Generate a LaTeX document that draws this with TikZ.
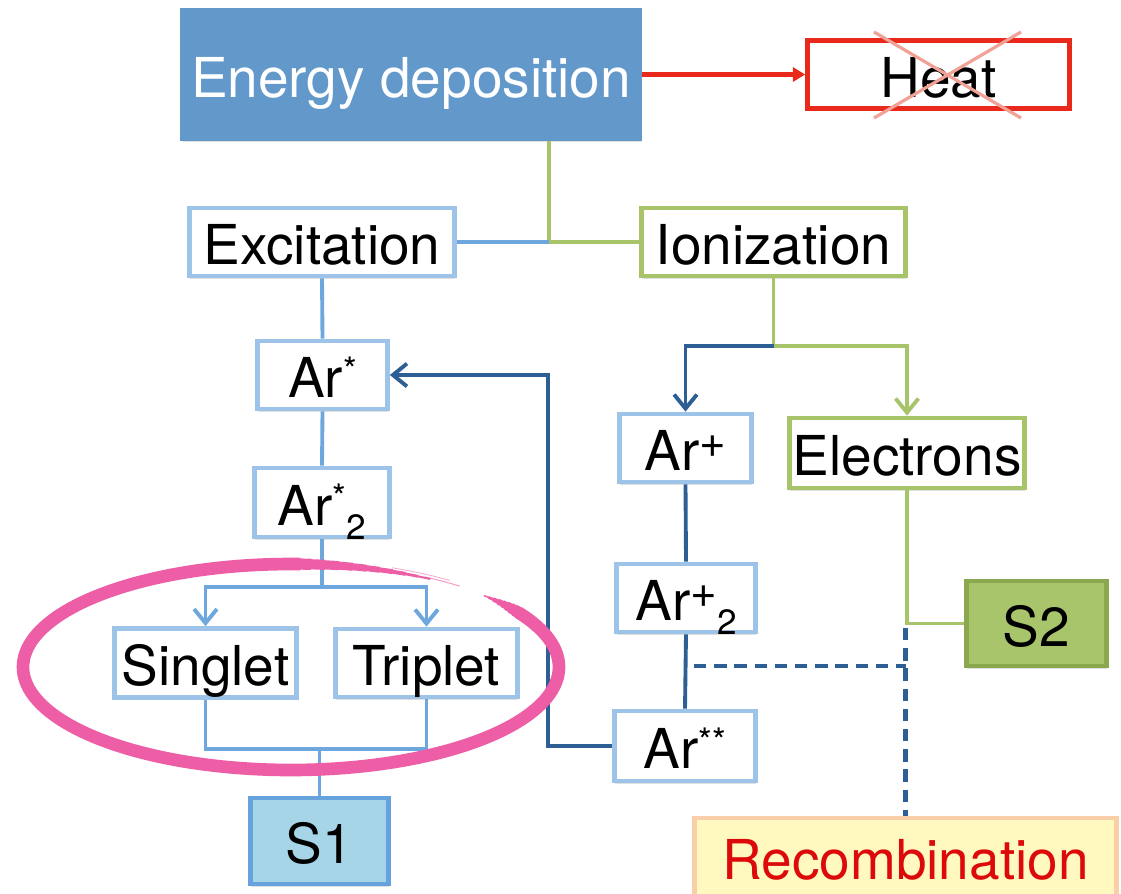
\documentclass[tikz,border=0pt]{standalone}
\usepackage{fontspec}
\setmainfont{TeX Gyre Heros}
\usetikzlibrary{arrows.meta,shadows}
\definecolor{edfill}{HTML}{6398CA}
\definecolor{lbborder}{HTML}{9DC3E8}
\definecolor{lbline}{HTML}{6DA7DE}
\definecolor{dblue}{HTML}{2D5F94}
\definecolor{gcol}{HTML}{A8C46B}
\definecolor{redcol}{HTML}{E8291B}
\definecolor{heatx}{HTML}{F2A196}
\definecolor{pinkcol}{HTML}{EE5EA6}
\definecolor{sonefill}{HTML}{A5D5E6}
\definecolor{soneborder}{HTML}{66A3DC}
\definecolor{stwofill}{HTML}{A9C56B}
\definecolor{stwoborder}{HTML}{8CA84E}
\definecolor{rcfill}{HTML}{FFF9BF}
\definecolor{rcborder}{HTML}{F8CFA8}
\definecolor{rctextcol}{HTML}{DC0A0A}
\newcommand{\upst}[1]{\raisebox{9pt}{\fontsize{20pt}{20pt}\selectfont #1}}
\newcommand{\upplus}{\raisebox{7.5pt}{\fontsize{26pt}{26pt}\selectfont +}}
\newcommand{\dnsub}[1]{\raisebox{-8pt}{\fontsize{20pt}{20pt}\selectfont #1}}
\tikzset{
  basebox/.style={inner sep=0pt, anchor=center, text height=26pt, text depth=0pt,
    font=\fontsize{31.3pt}{36pt}\selectfont, line width=2.7pt,
    drop shadow={shadow xshift=0.5pt, shadow yshift=-1.5pt, opacity=0.25}},
  lbbox/.style={basebox, draw=lbborder, fill=white, minimum width=5.3cm, minimum height=1.36cm},
  gbox/.style={basebox, draw=gcol, fill=white, minimum width=5.28cm, minimum height=1.36cm},
  edbox/.style={basebox, draw=edfill, fill=edfill, text=white, minimum width=9.16cm, minimum height=2.58cm},
  heatbox/.style={basebox, draw=redcol, fill=white, minimum width=5.24cm, minimum height=1.36cm},
  sonebox/.style={basebox, draw=soneborder, fill=sonefill, minimum width=2.76cm, minimum height=1.72cm},
  stwobox/.style={basebox, draw=stwoborder, fill=stwofill, minimum width=2.8cm, minimum height=1.7cm},
  rcbox/.style={basebox, draw=rcborder, fill=rcfill, minimum width=8.44cm, minimum height=2.08cm},
  rctext/.style={inner sep=0pt, text height=26pt, text depth=0pt, text=rctextcol,
    font=\fontsize{31.3pt}{36pt}\selectfont},
  lbconn/.style={draw=lbline, line width=2.2pt},
  gconn/.style={draw=gcol, line width=2.2pt},
  dbconn/.style={draw=dblue, line width=2.2pt},
  redconn/.style={draw=redcol, line width=2.5pt},
  dashconn/.style={draw=dblue, line width=2.5pt, dash pattern=on 7pt off 4.5pt},
  barb/.style={-{Straight Barb[length=8pt,width=13pt]}},
  pinkstroke/.style={draw=pinkcol, line join=round},
}
\begin{document}
\begin{tikzpicture}[x=0.02cm,y=-0.02cm]
\useasboundingbox (0,0) rectangle (1121,893);
\clip (0,0) rectangle (1121,893);
\fill[white] (0,0) rectangle (1121,893);

% boxes
\node[edbox] (energy) at (411,74.5) {Energy deposition};
\node[heatbox] (heat) at (938.5,74.5) {Heat};
\node[lbbox] (excit) at (322,242) {Excitation};
\node[gbox] (ioniz) at (773.5,242) {Ionization};
\node[lbbox, minimum width=2.6cm] (arst) at (322.5,375) {Ar\upst{*}};
\node[lbbox, minimum width=2.7cm, minimum height=1.38cm] (arsttwo) at (322,502.5) {Ar\upst{*}\dnsub{2}};
\node[lbbox, minimum width=3.64cm, minimum height=1.38cm] (singlet) at (205.5,663) {Singlet};
\node[lbbox, minimum width=3.64cm] (triplet) at (426.5,663) {Triplet};
\node[sonebox] (sone) at (319.5,841) {S1};
\node[lbbox, minimum width=2.64cm] (arp) at (685.5,448) {Ar\upplus};
\node[gbox, minimum width=4.7cm, minimum height=1.4cm] (elec) at (907,453) {Electrons};
\node[lbbox, minimum width=2.78cm] (arptwo) at (686,598) {Ar\upplus\dnsub{2}};
\node[lbbox, minimum width=2.82cm, minimum height=1.4cm] (arss) at (685,746) {Ar\upst{**}};
\node[stwobox] (stwo) at (1036.5,623.5) {S2};
\node[rcbox] (recomb) at (905.5,870) {};
\node[rctext] (rctxt) at (905.5,857) {Recombination};

% heat cross
\coordinate (hxa) at (874,32);
\coordinate (hxb) at (1021,118);
\coordinate (hxc) at (1021,32);
\coordinate (hxd) at (874,118);
\draw[heatx, line width=1.8pt] (hxa) -- (hxb);
\draw[heatx, line width=1.8pt] (hxc) -- (hxd);

% connectors
\draw[redconn, -{Triangle[length=7pt,width=8pt]}] (energy.east) -- (heat.west);
\coordinate (ej) at (549,242);
\draw[gconn] (energy.south -| ej) -- (ej) -- (ioniz.west);
\draw[lbconn] (excit.east) -- (ej);
\draw[lbconn] (excit.south) -- (arst.north);
\draw[lbconn] (arst.south) -- (arsttwo.north);
\coordinate (sj) at (322,587);
\draw[lbconn] (arsttwo.south) -- (sj);
\draw[lbconn, barb] (sj) -| (singlet.north);
\draw[lbconn, barb] (sj) -| (triplet.north);
\coordinate (bj) at (319.5,749);
\draw[lbconn] (singlet.south) |- (bj) -- (sone.north);
\draw[lbconn] (triplet.south) |- (bj);

\coordinate (ij) at (773.5,346);
\draw[gconn] (ioniz.south) -- (ij);
\draw[dbconn, barb] (ij) -| (arp.north);
\draw[gconn, barb] (ij) -| (elec.north);
\draw[dbconn] (arp.south) -- (arptwo.north);
\draw[dbconn] (arptwo.south) -- (arss.north);
\coordinate (bk) at (548,746);
\draw[dbconn, barb] (arss.west) -- (bk) |- (arst.east);
\draw[gconn] (elec.south) |- (stwo.west);
\coordinate (dv) at (905.5,628);
\coordinate (dh) at (694,666);
\draw[dashconn] (dh) -- (dh -| recomb.north);
\draw[dashconn] (dv) -- (recomb.north);

% pink hand-drawn ellipse: tapered start, thick body, tapered tail
\foreach \a/\w in {-44/0.8, -42.5/1.6, -41/2.5, -39.5/3.4, -38/4.3, -36.5/5.2, -35/6.0, -33.5/6.7}
  \draw[pinkstroke, line width=\w pt, line cap=butt]
    plot[domain=\a:\a+1.8, samples=3] ({291+268*cos(\x)},{667+103*sin(\x)});
\draw[pinkstroke, line width=7.2pt, line cap=butt] plot[domain=-32:272, samples=150] ({291+268*cos(\x)},{667+103*sin(\x)});
\foreach \a/\w in {271/6.4, 274/5.8, 277/5.2, 280/4.6, 283/4.0, 286/3.4, 289/2.8, 292/2.2, 295/1.6, 298/1.1}
  \draw[pinkstroke, line width=\w pt, line cap=butt]
    plot[domain=\a:\a+3.3, samples=4] ({291+268*cos(\x)},{667+103*sin(\x)});
\draw[pinkstroke, line width=0.6pt, opacity=0.6] plot[domain=300:309, samples=8] ({291+268*cos(\x)},{667+104*sin(\x)});
\draw[pinkstroke, line width=0.5pt, opacity=0.5] plot[domain=292:306, samples=8] ({291+270*cos(\x)},{667+107*sin(\x)});
\end{tikzpicture}
\end{document}
